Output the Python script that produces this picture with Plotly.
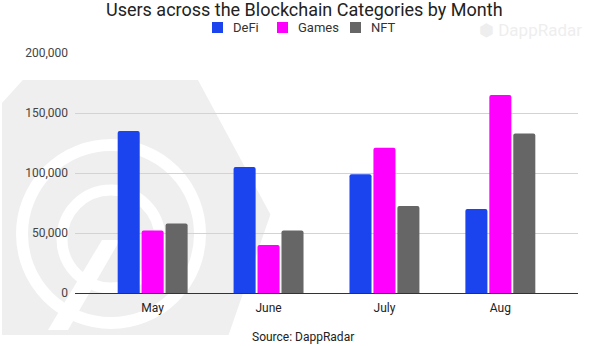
import plotly.graph_objects as go

months = ["May", "June", "July", "Aug"]
defi = [135000, 105000, 99000, 70000]
games = [52000, 40000, 121000, 165000]
nft = [58000, 52000, 72500, 133000]
y_ticks = [0, 50000, 100000, 150000, 200000]
y_tick_labels = ["0", "50,000", "100,000", "150,000", "200,000"]
series_names = ["DeFi", "Games", "NFT"]

colors = {"DeFi": "#1b44ee", "Games": "#ff00ff", "NFT": "#666666"}

fig = go.Figure()
for name, vals in zip(series_names, [defi, games, nft]):
    fig.add_trace(go.Bar(name=name, x=months, y=vals, marker_color=colors[name],
                         marker_line_width=0, showlegend=False))

# plot-area geometry in pixels and helpers to paper coords
L, T, W, H = 75, 53, 503, 240
def px(x):
    return (x - L) / W
def py(y):
    return 1 - (y - T) / H

# background watermark (approximate DappRadar logo)
hexpath = "M {} {} L {} {} L {} {} L {} {} L {} {} L {} {} Z".format(
    px(25), py(85), px(195), py(85), px(265), py(215), px(225), py(330),
    px(7), py(330), px(7), py(105))
shapes = [
    dict(type="path", xref="paper", yref="paper", layer="below", path=hexpath,
         fillcolor="#efefef", line=dict(color="#efefef", width=10)),
    dict(type="circle", xref="paper", yref="paper", layer="below",
         x0=px(22), x1=px(200), y0=py(145), y1=py(323),
         line=dict(color="white", width=12), fillcolor="rgba(0,0,0,0)"),
    dict(type="circle", xref="paper", yref="paper", layer="below",
         x0=px(62), x1=px(160), y0=py(190), y1=py(288),
         line=dict(color="white", width=11), fillcolor="rgba(0,0,0,0)"),
    dict(type="path", xref="paper", yref="paper", layer="below",
         path="M {} {} L {} {} L {} {} L {} {} Z".format(
             px(102), py(240), px(120), py(240), px(68), py(330), px(48), py(330)),
         fillcolor="white", line_width=0),
]

# manual legend (compact, as in the reference)
legend_sq_x = [212, 277, 350]
annotations = []
for name, sx in zip(series_names, legend_sq_x):
    shapes.append(dict(type="rect", xref="paper", yref="paper",
                       x0=px(sx), x1=px(sx + 11), y0=py(22), y1=py(33),
                       fillcolor=colors[name], line_width=0))
    annotations.append(dict(text=name, xref="paper", yref="paper",
                            x=px(sx + 19), y=py(27.5), xanchor="left", yanchor="middle",
                            showarrow=False, font=dict(size=13, color="#333333")))

annotations += [
    dict(text="Users across the Blockchain Categories by Month", xref="paper", yref="paper",
         x=px(304), y=py(9), xanchor="center", yanchor="middle", showarrow=False,
         font=dict(size=18, color="#222222")),
    dict(text="Source: DappRadar", xref="paper", yref="paper",
         x=px(303), y=py(337), xanchor="center", yanchor="middle", showarrow=False,
         font=dict(size=12, color="#222222")),
    dict(text="⬢ DappRadar", xref="paper", yref="paper",
         x=px(530), y=py(30), xanchor="center", yanchor="middle", showarrow=False,
         font=dict(size=17, color="#eeeeee")),
]

fig.update_layout(
    width=600, height=346,
    margin=dict(l=L, r=600 - L - W, t=T, b=346 - T - H),
    paper_bgcolor="white", plot_bgcolor="rgba(0,0,0,0)",
    barmode="group", bargap=0.38, bargroupgap=0.08, barcornerradius=2,
    font=dict(family="Roboto, Arial, sans-serif", size=12, color="#222222"),
    shapes=shapes,
    annotations=annotations,
    showlegend=False,
    xaxis=dict(range=[-0.67, 3.67], showline=True, linecolor="#333333", linewidth=1,
               ticks="", tickfont=dict(size=12, color="#222222"), showgrid=False,
               ticklabelstandoff=4),
    yaxis=dict(range=[0, 200000], tickvals=y_ticks, ticktext=y_tick_labels,
               showgrid=True, gridcolor="#d3d3d3", gridwidth=1, zeroline=False,
               tickfont=dict(size=12, color="#444444"), ticks="", ticklen=0,
               showline=False, ticklabelstandoff=6),
)

fig.write_html("out.html")
